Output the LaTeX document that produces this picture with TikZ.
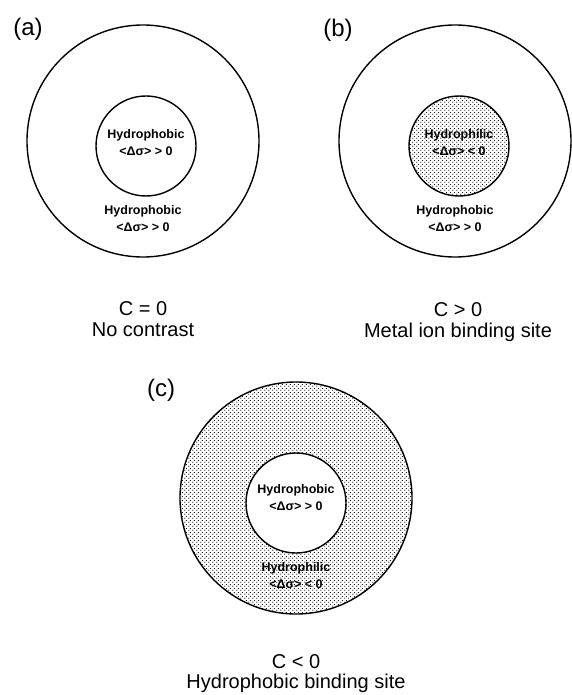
\documentclass[tikz,border=0pt]{standalone}
\usepackage{fontspec}
\setmainfont{Liberation Sans}
\usetikzlibrary{positioning,patterns}

% stippled fill, like the printed screen
\pgfdeclarepatternformonly{stippledots}{\pgfpointorigin}{\pgfqpoint{4pt}{4pt}}{\pgfqpoint{4pt}{4pt}}{%
  \pgfpathcircle{\pgfqpoint{1pt}{1pt}}{0.72pt}%
  \pgfpathcircle{\pgfqpoint{3pt}{3pt}}{0.72pt}%
  \pgfusepath{fill}}

\begin{document}
\begin{tikzpicture}[
  x=1pt, y=-1pt,
  ring/.style={circle, draw=black, line width=1.4pt, inner sep=0pt},
  bigring/.style={ring, minimum size=232pt},
  core/.style={ring, minimum size=100pt},
  stipple/.style={pattern=stippledots, pattern color=black},
  region/.style={font=\fontsize{12.5}{17}\selectfont\bfseries, align=center, inner sep=1pt},
  panel/.style={font=\fontsize{24}{26}\selectfont},
  caption/.style={font=\fontsize{20}{21}\selectfont, anchor=base, inner sep=0pt}
]
  \useasboundingbox (0,0) rectangle (572,695);

  % (a) no contrast
  \node[bigring] (outerA) at (143,141) {};
  \node[core] (innerA) at (146,146) {};
  \node[panel] (labA) at (28,29) {(a)};
  \node[region] (inA) at ([yshift=3pt]innerA.center) {Hydrophobic\\<Δσ> > 0};
  \node[region] (ringA) at ([yshift=-78pt]outerA.center) {Hydrophobic\\<Δσ> > 0};
  \node[caption] (capA) at (143,315) {C = 0};
  \node[caption] (subA) at ([yshift=-21pt]capA.base) {No contrast};

  % (b) metal ion binding site
  \node[bigring] (outerB) at (455,141) {};
  \node[core, stipple] (innerB) at (459,146) {};
  \node[panel] (labB) at (338,30) {(b)};
  \node[region] (inB) at ([yshift=3pt]innerB.center) {Hydrophilic\\<Δσ> < 0};
  \node[region] (ringB) at ([yshift=-78pt]outerB.center) {Hydrophobic\\<Δσ> > 0};
  \node[caption] (capB) at (458,316) {C > 0};
  \node[caption] (subB) at ([yshift=-21pt]capB.base) {Metal ion binding site};

  % (c) hydrophobic binding site
  \node[bigring, stipple] (outerC) at (296,498) {};
  \node[core, fill=white] (innerC) at (296,503) {};
  \node[panel] (labC) at (161,390) {(c)};
  \node[region] (inC) at ([yshift=5pt]innerC.center) {Hydrophobic\\<Δσ> > 0};
  \node[region] (ringC) at ([yshift=-78pt]outerC.center) {Hydrophilic\\<Δσ> < 0};
  \node[caption] (capC) at (296,668) {C < 0};
  \node[caption] (subC) at ([yshift=-20pt]capC.base) {Hydrophobic binding site};

\end{tikzpicture}
\end{document}
